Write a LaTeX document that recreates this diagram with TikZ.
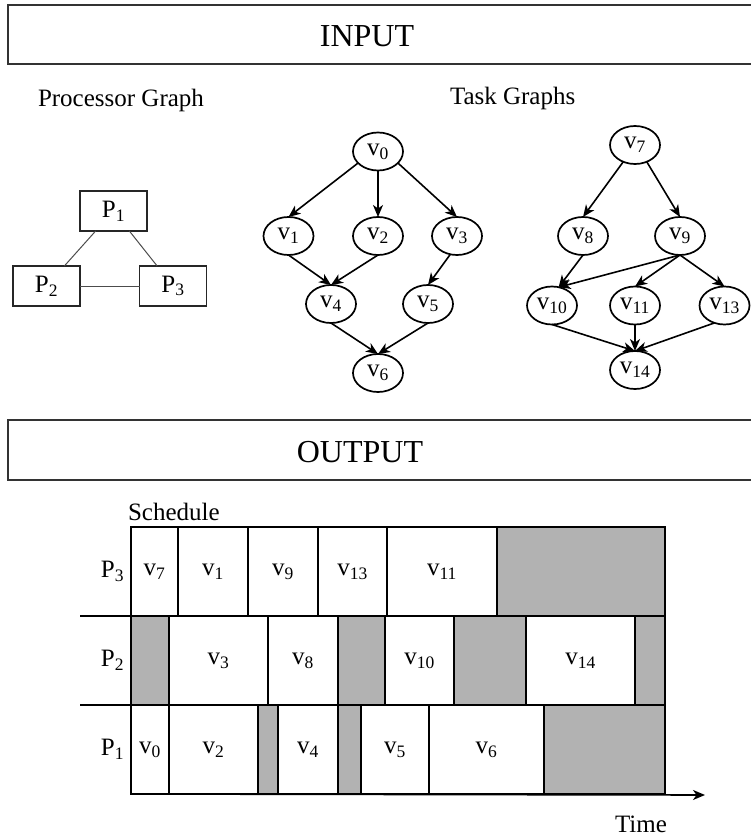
\documentclass[tikz,border=0pt]{standalone}
\usepackage{fontspec}
\setmainfont{Liberation Serif}
\usetikzlibrary{positioning,shapes.geometric,arrows.meta}

\begin{document}
\begin{tikzpicture}[x=1pt, y=-1pt, font=\fontsize{25}{30}\selectfont,
	every node/.style={inner sep=0pt, outer sep=0pt},
	task/.style={draw, ellipse, line width=1.7pt, minimum width=50pt, minimum height=38pt},
	proc/.style={draw=black!85, line width=1.9pt, minimum width=67pt, minimum height=40pt},
	slot/.style={draw, line width=1.8pt, anchor=north west, minimum height=89pt},
	idle/.style={slot, fill=black!30},
	frame/.style={draw=black!80, line width=2pt},
	dep/.style={->, line width=1.6pt},
	link/.style={draw=black!70, line width=1pt},
	>={Stealth[length=12pt, width=10pt, inset=3.5pt]}]
	\useasboundingbox (0,0) rectangle (751,837);

	% input part
	\draw[frame] (8,5) rectangle (780,64);
	\node[font=\fontsize{32}{36}\selectfont] (input) at (367,36) {INPUT};
	\node[anchor=base west] (pgtitle) at (38,107) {Processor Graph};
	\node[anchor=base west] (tgtitle) at (450,105) {Task Graphs};

	\node[proc] (P1) at (113.5,211) {P\textsubscript{1}};
	\node[proc] (P2) at (46.5,286) {P\textsubscript{2}};
	\node[proc] (P3) at (173,286) {P\textsubscript{3}};
	\draw[link] (P1) -- (P2);
	\draw[link] (P1) -- (P3);
	\draw[link] (P2) -- (P3);

	% first task graph
	\node[task] (v0) at (378,151.5) {v\textsubscript{0}};
	\node[task] (v1) at (288.5,236) {v\textsubscript{1}};
	\node[task] (v2) at (378,236) {v\textsubscript{2}};
	\node[task] (v3) at (457,236) {v\textsubscript{3}};
	\node[task] (v4) at (331,304) {v\textsubscript{4}};
	\node[task] (v5) at (428,304) {v\textsubscript{5}};
	\node[task] (v6) at (378,373) {v\textsubscript{6}};
	\draw[dep] (v0.-150) -- (v1.north);
	\draw[dep] (v0.south) -- (v2.north);
	\draw[dep] (v0.-30) -- (v3.north);
	\draw[dep] (v1.south) -- (v4.north);
	\draw[dep] (v2.south) -- (v4.north);
	\draw[dep] (v3.-110) -- (v5.north);
	\draw[dep] (v4.south) -- (v6.north);
	\draw[dep] (v5.south) -- (v6.north);

	% second task graph
	\node[task] (v7) at (635,145) {v\textsubscript{7}};
	\node[task] (v8) at (583,236) {v\textsubscript{8}};
	\node[task] (v9) at (680,236) {v\textsubscript{9}};
	\node[task] (v10) at (552,305.5) {v\textsubscript{10}};
	\node[task] (v11) at (635,305.5) {v\textsubscript{11}};
	\node[task] (v13) at (724.5,305.5) {v\textsubscript{13}};
	\node[task] (v14) at (635,370) {v\textsubscript{14}};
	\draw[dep] (v7.-125) -- (v8.north);
	\draw[dep] (v7.-55) -- (v9.north);
	\draw[dep] (v8.south) -- (v10.70);
	\draw[dep] (v9.south) -- (v10.70);
	\draw[dep] (v9.south) -- (v11.north);
	\draw[dep] (v9.south) -- (v13.north);
	\draw[dep] (v10.south) -- (v14.north);
	\draw[dep] (v11.south) -- (v14.north);
	\draw[dep] (v13.-120) -- (v14.north);

	% output part
	\draw[frame] (8,420) rectangle (780,480);
	\node[font=\fontsize{32}{36}\selectfont] (output) at (360,452) {OUTPUT};
	\node[anchor=base west] (schedtitle) at (128,520) {Schedule};

	% P3 row
	\node[slot, minimum width=47pt] (s7) at (131,527) {v\textsubscript{7}};
	\node[slot, minimum width=70pt, right=0pt of s7] (s1) {v\textsubscript{1}};
	\node[slot, minimum width=70pt, right=0pt of s1] (s9) {v\textsubscript{9}};
	\node[slot, minimum width=69pt, right=0pt of s9] (s13) {v\textsubscript{13}};
	\node[slot, minimum width=110pt, right=0pt of s13] (s11) {v\textsubscript{11}};
	\node[idle, minimum width=168pt, right=0pt of s11] (i31) {};

	% P2 row
	\node[idle, minimum width=38pt] (i21) at (131,616) {};
	\node[slot, minimum width=99pt, right=0pt of i21] (s3) {v\textsubscript{3}};
	\node[slot, minimum width=70pt, right=0pt of s3] (s8) {v\textsubscript{8}};
	\node[idle, minimum width=47pt, right=0pt of s8] (i22) {};
	\node[slot, minimum width=69pt, right=0pt of i22] (s10) {v\textsubscript{10}};
	\node[idle, minimum width=72pt, right=0pt of s10] (i23) {};
	\node[slot, minimum width=109pt, right=0pt of i23] (s14) {v\textsubscript{14}};
	\node[idle, minimum width=30pt, right=0pt of s14] (i24) {};

	% P1 row
	\node[slot, minimum width=38pt] (s0) at (131,705) {v\textsubscript{0}};
	\node[slot, minimum width=89pt, right=0pt of s0] (s2) {v\textsubscript{2}};
	\node[idle, minimum width=20pt, right=0pt of s2] (i11) {};
	\node[slot, minimum width=60pt, right=0pt of i11] (s4) {v\textsubscript{4}};
	\node[idle, minimum width=23pt, right=0pt of s4] (i12) {};
	\node[slot, minimum width=68pt, right=0pt of i12] (s5) {v\textsubscript{5}};
	\node[slot, minimum width=115pt, right=0pt of s5] (s6) {v\textsubscript{6}};
	\node[idle, minimum width=121pt, right=0pt of s6] (i13) {};

	\node[left=7pt of s7] (L3) {P\textsubscript{3}};
	\node[left=7pt of i21] (L2) {P\textsubscript{2}};
	\node[left=7pt of s0] (L1) {P\textsubscript{1}};
	\coordinate (c2) at (80,616);
	\coordinate (c1) at (80,705);
	\draw[line width=1.8pt] (c2) -- (i21.north west);
	\draw[line width=1.8pt] (c1) -- (s0.north west);

	\coordinate (tend) at (705,795);
	\draw[dep] (s0.south west) -- (tend);
	\node (time) at (641,824) {Time};
\end{tikzpicture}
\end{document}
